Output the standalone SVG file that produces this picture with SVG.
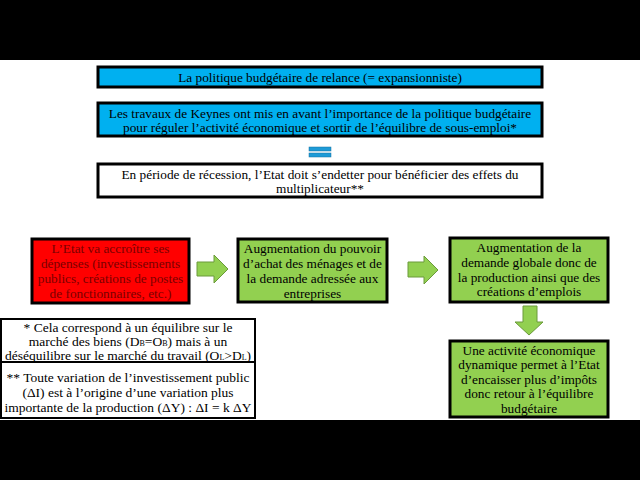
<svg xmlns="http://www.w3.org/2000/svg" width="640" height="480" viewBox="0 0 640 480">
<style>
text{font-family:"Liberation Serif","Times New Roman",serif;font-size:13.3px;text-anchor:middle;fill:#000}
.box{stroke:#000;stroke-width:3}
.blue{fill:#00B0F0}
.green{fill:#92D050}
.red{fill:#FF0000}
.white{fill:#fff}
.arrow{fill:#92D050;stroke:#6a9a3a;stroke-width:1}
.dred{fill:#7a0000}
.fn{font-size:13.5px}
</style>
<rect x="0" y="0" width="640" height="480" fill="#fff"/>
<rect x="0" y="0" width="640" height="60" fill="#000"/>
<rect x="0" y="420" width="640" height="60" fill="#000"/>

<g id="title">
<rect class="box blue" x="98" y="67" width="444" height="20"/>
<text x="320" y="81.5">La politique budgétaire de relance (= expansionniste)</text>
</g>
<g id="keynes">
<rect class="box blue" x="98" y="103" width="444" height="33"/>
<text x="320" y="117.5">Les travaux de Keynes ont mis en avant l’importance de la politique budgétaire</text>
<text x="320" y="132">pour réguler l’activité économique et sortir de l’équilibre de sous-emploi*</text>
</g>
<g id="equals">
<rect x="309" y="147" width="22" height="4" fill="#1E9BD7" stroke="#1770a0" stroke-width="0.5"/>
<rect x="309" y="153" width="22" height="4" fill="#1E9BD7" stroke="#1770a0" stroke-width="0.5"/>
</g>
<g id="recession">
<rect class="box white" x="98" y="164" width="444" height="33"/>
<text x="320" y="178.5">En période de récession, l’Etat doit s’endetter pour bénéficier des effets du</text>
<text x="320" y="193">multiplicateur**</text>
</g>

<g id="etat">
<rect class="box red" x="32" y="239" width="157" height="64"/>
<text class="dred" x="110.5" y="252.5">L’Etat va accroître ses</text>
<text class="dred" x="110.5" y="267.5">dépenses (investissements</text>
<text class="dred" x="110.5" y="282.5">publics, créations de postes</text>
<text class="dred" x="110.5" y="297.5">de fonctionnaires, etc.)</text>
</g>
<g id="pouvoir">
<rect class="box green" x="238" y="239" width="149" height="63"/>
<text x="312.5" y="252.5">Augmentation du pouvoir</text>
<text x="312.5" y="267.5">d’achat des ménages et de</text>
<text x="312.5" y="282.5">la demande adressée aux</text>
<text x="312.5" y="297.5">entreprises</text>
</g>
<g id="demande">
<rect class="box green" x="450" y="238" width="158" height="64"/>
<text x="529" y="251.5">Augmentation de la</text>
<text x="529" y="266.5">demande globale donc de</text>
<text x="529" y="281.5">la production ainsi que des</text>
<text x="529" y="296">créations d’emplois</text>
</g>
<g id="activite">
<rect class="box green" x="450" y="341" width="158" height="76"/>
<text x="529" y="354.5">Une activité économique</text>
<text x="529" y="369">dynamique permet à l’Etat</text>
<text x="529" y="383.5">d’encaisser plus d’impôts</text>
<text x="529" y="398">donc retour à l’équilibre</text>
<text x="529" y="412.5">budgétaire</text>
</g>
<g id="footnotes">
<rect x="1" y="319" width="254" height="99" fill="#fff" stroke="#000" stroke-width="2"/>
<line x1="1" y1="362" x2="255" y2="362" stroke="#000" stroke-width="2"/>
<text class="fn" x="128" y="332">* Cela correspond à un équilibre sur le</text>
<text class="fn" x="128" y="346">marché des biens (D<tspan font-size="8">B</tspan>=O<tspan font-size="8">B</tspan>) mais à un</text>
<text class="fn" x="128" y="360">déséquilibre sur le marché du travail (O<tspan font-size="8">L</tspan>&gt;D<tspan font-size="8">L</tspan>)</text>
<text class="fn" x="128" y="382">** Toute variation de l’investissement public</text>
<text class="fn" x="128" y="397">(ΔI) est à l’origine d’une variation plus</text>
<text class="fn" x="128" y="412">importante de la production (ΔY) : ΔI = k ΔY</text>
</g>

<g id="connectors">
<path class="arrow" d="M197,262 L214,262 L214,255 L228,269 L214,283 L214,276 L197,276 Z"/>
<path class="arrow" d="M408,262 L424,262 L424,256 L438,270 L424,284 L424,277 L408,277 Z"/>
<path class="arrow" d="M523,306 L537,306 L537,322 L543,322 L529,335 L515,322 L523,322 Z"/>
</g>
</svg>
